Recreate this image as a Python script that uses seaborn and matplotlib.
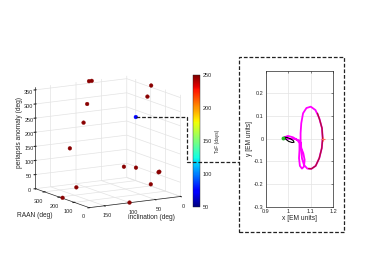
import numpy as np
import matplotlib
matplotlib.use("Agg")
import matplotlib.pyplot as plt
import seaborn as sns
from matplotlib.patches import Rectangle
from matplotlib.lines import Line2D
from mpl_toolkits.mplot3d import proj3d

# solutions found by the search (RAAN, inclination, periapsis anomaly, ToF)
raan = [358, 350, 190, 215, 350, 340, 150, 340, 250, 200, 120, 115, 60, 300, 185, 2]
incl = [75, 72, 2, 2, 81, 91, 44, 118, 38, 29, 8, 8, 41, 117, 178, 100]
peri = [358, 360, 358, 314, 280, 218, 263, 133, 67, 71, 65, 68, 41, 2, 0, 0]
tof = [248, 248, 248, 248, 248, 248, 75, 248, 248, 248, 248, 248, 248, 248, 248, 248]
selected = 6

# transfer trajectory of the selected solution (EM rotating frame)
traj_x = [0.981, 0.999, 1.021, 1.041, 1.050, 1.050, 1.048, 1.052, 1.061, 1.070,
          1.073, 1.067, 1.058, 1.055, 1.055, 1.058, 1.066, 1.081, 1.100, 1.121,
          1.138, 1.150, 1.153, 1.149, 1.138, 1.122, 1.103, 1.085, 1.070, 1.061,
          1.058, 1.057, 1.050, 1.029, 1.007, 0.987]
traj_y = [0.005, 0.012, 0.006, -0.006, -0.020, -0.050, -0.086, -0.120, -0.132, -0.123,
          -0.094, -0.064, -0.042, -0.020, 0.024, 0.068, 0.112, 0.135, 0.141, 0.126,
          0.090, 0.046, 0.002, -0.042, -0.086, -0.120, -0.133, -0.132, -0.116, -0.086,
          -0.050, -0.020, -0.009, -0.001, -0.001, 0.000]
# arc on the target orbit
orbit_x = [1.130, 1.141, 1.150, 1.153, 1.149, 1.138, 1.122, 1.103, 1.091]
orbit_y = [0.112, 0.079, 0.046, 0.002, -0.042, -0.086, -0.120, -0.133, -0.132]
# departure orbit around the Moon
lunar_x = [0.984, 0.996, 1.011, 1.023, 1.026, 1.017, 1.002, 0.990, 0.984]
lunar_y = [0.006, 0.005, -0.001, -0.009, -0.016, -0.017, -0.012, -0.003, 0.006]
start_pt = (0.978, 0.005)
l2_pt = (1.1557, 0.0)

sns.set_style("white")
plt.rcParams['font.family'] = ['Liberation Sans', 'DejaVu Sans']
plt.rcParams['grid.color'] = '#e3e3e3'
plt.rcParams['grid.linewidth'] = 0.5
plt.rcParams['axes.edgecolor'] = '#262626'
plt.rcParams['axes.linewidth'] = 0.5
plt.rcParams['xtick.color'] = '#262626'
plt.rcParams['ytick.color'] = '#262626'
plt.rcParams['text.color'] = '#262626'

fs_tick = 4
fs_lab = 4.8

fig = plt.figure(figsize=(3.7, 2.78), dpi=100)

# 3D scatter
ax3 = fig.add_axes([0.0459, 0.163, 0.479, 0.637], projection='3d')
ax3.set_proj_type('ortho')
ax3.view_init(elev=12, azim=149.5)
ax3.set_box_aspect((1, 1, 0.98))
sc = ax3.scatter(raan, incl, peri, c=tof, cmap='jet', vmin=50, vmax=250,
                 s=7, depthshade=False, linewidths=0.3, edgecolors='face')
ax3.set_xlim(0, 360)
ax3.set_ylim(0, 180)
ax3.set_zlim(0, 360)
ax3.set_xticks([0, 100, 200, 300])
ax3.set_yticks([0, 50, 100, 150])
ax3.set_zticks([0, 50, 100, 150, 200, 250, 300, 350])
ax3.zaxis.set_ticks_position('upper')
for axis in (ax3.xaxis, ax3.yaxis, ax3.zaxis):
    axis.set_pane_color((1, 1, 1, 0))
    axis.line.set_color('#262626')
    axis.line.set_linewidth(0.5)
ax3.tick_params(labelsize=fs_tick)
ax3.xaxis.set_tick_params(pad=-4)
ax3.yaxis.set_tick_params(pad=-4)
ax3.zaxis.set_tick_params(pad=-5)
ax3.set_xlabel('')
ax3.set_ylabel('')
ax3.set_zlabel('')
fig.text(35 / 370, 1 - 215.5 / 278, 'RAAN (deg)', fontsize=fs_lab,
         ha='center', va='center')
fig.text(151.5 / 370, 1 - 217.5 / 278, 'inclination (deg)', fontsize=fs_lab,
         ha='center', va='center')
fig.text(20 / 370, 1 - 133 / 278, 'periapsis anomaly (deg)', fontsize=fs_lab,
         ha='center', va='center', rotation=90)

# colorbar
cax = fig.add_axes([0.5216, 0.2554, 0.0189, 0.4748])
cb = fig.colorbar(sc, cax=cax)
cb.set_ticks([50, 100, 150, 200, 250])
cb.ax.tick_params(labelsize=fs_tick, length=0, pad=2)
cb.outline.set_linewidth(0.3)
cb.set_label('ToF (days)', fontsize=3.5, labelpad=2)

# trajectory panel
ax2 = fig.add_axes([0.718, 0.2565, 0.1827, 0.4892])
sns.lineplot(x=traj_x, y=traj_y, sort=False, estimator=None, color='#ff00ff',
             lw=1.3, ax=ax2)
sns.lineplot(x=orbit_x, y=orbit_y, sort=False, estimator=None, color='#b0103a',
             lw=1.0, ax=ax2)
sns.lineplot(x=lunar_x, y=lunar_y, sort=False, estimator=None, color='black',
             lw=0.8, ax=ax2)
ax2.plot(*start_pt, 'o', color='#22bb22', ms=1.8)
ax2.plot(*l2_pt, '+', color='#ff6666', ms=3, mew=0.8)
ax2.set_xlim(0.9, 1.2)
ax2.set_ylim(-0.3, 0.2996)
ax2.set_xticks([0.9, 1.0, 1.1, 1.2])
ax2.set_xticklabels(['0.9', '1', '1.1', '1.2'])
ax2.set_yticks([-0.3, -0.2, -0.1, 0, 0.1, 0.2])
ax2.set_yticklabels(['-0.3', '-0.2', '-0.1', '0', '0.1', '0.2'])
ax2.grid(True)
ax2.tick_params(labelsize=fs_tick, length=1.5, width=0.4, pad=1.5,
                direction='in', top=True, right=True)
ax2.set_xlabel('x [EM units]', fontsize=fs_lab, labelpad=1)
ax2.set_ylabel('y [EM units]', fontsize=fs_lab, labelpad=1)

# dashed frame and connector
fig.add_artist(Rectangle((0.6468, 0.1644), 0.2837, 0.6295, transform=fig.transFigure,
                         fill=False, ls=(0, (3, 1.5)), lw=0.9, ec='#222222'))
fig.canvas.draw()
px, py, _ = proj3d.proj_transform(raan[selected], incl[selected], peri[selected],
                                  ax3.get_proj())
fx, fy = fig.transFigure.inverted().transform(ax3.transData.transform((px, py)))
elbow_x = 0.5045
link_y = 1 - 161.7 / 278
fig.add_artist(Line2D([fx, elbow_x, elbow_x, 0.6468], [fy, fy, link_y, link_y],
                      transform=fig.transFigure, ls=(0, (3, 1.5)), lw=0.9,
                      color='#222222'))

fig.savefig('out.png', dpi=100)
